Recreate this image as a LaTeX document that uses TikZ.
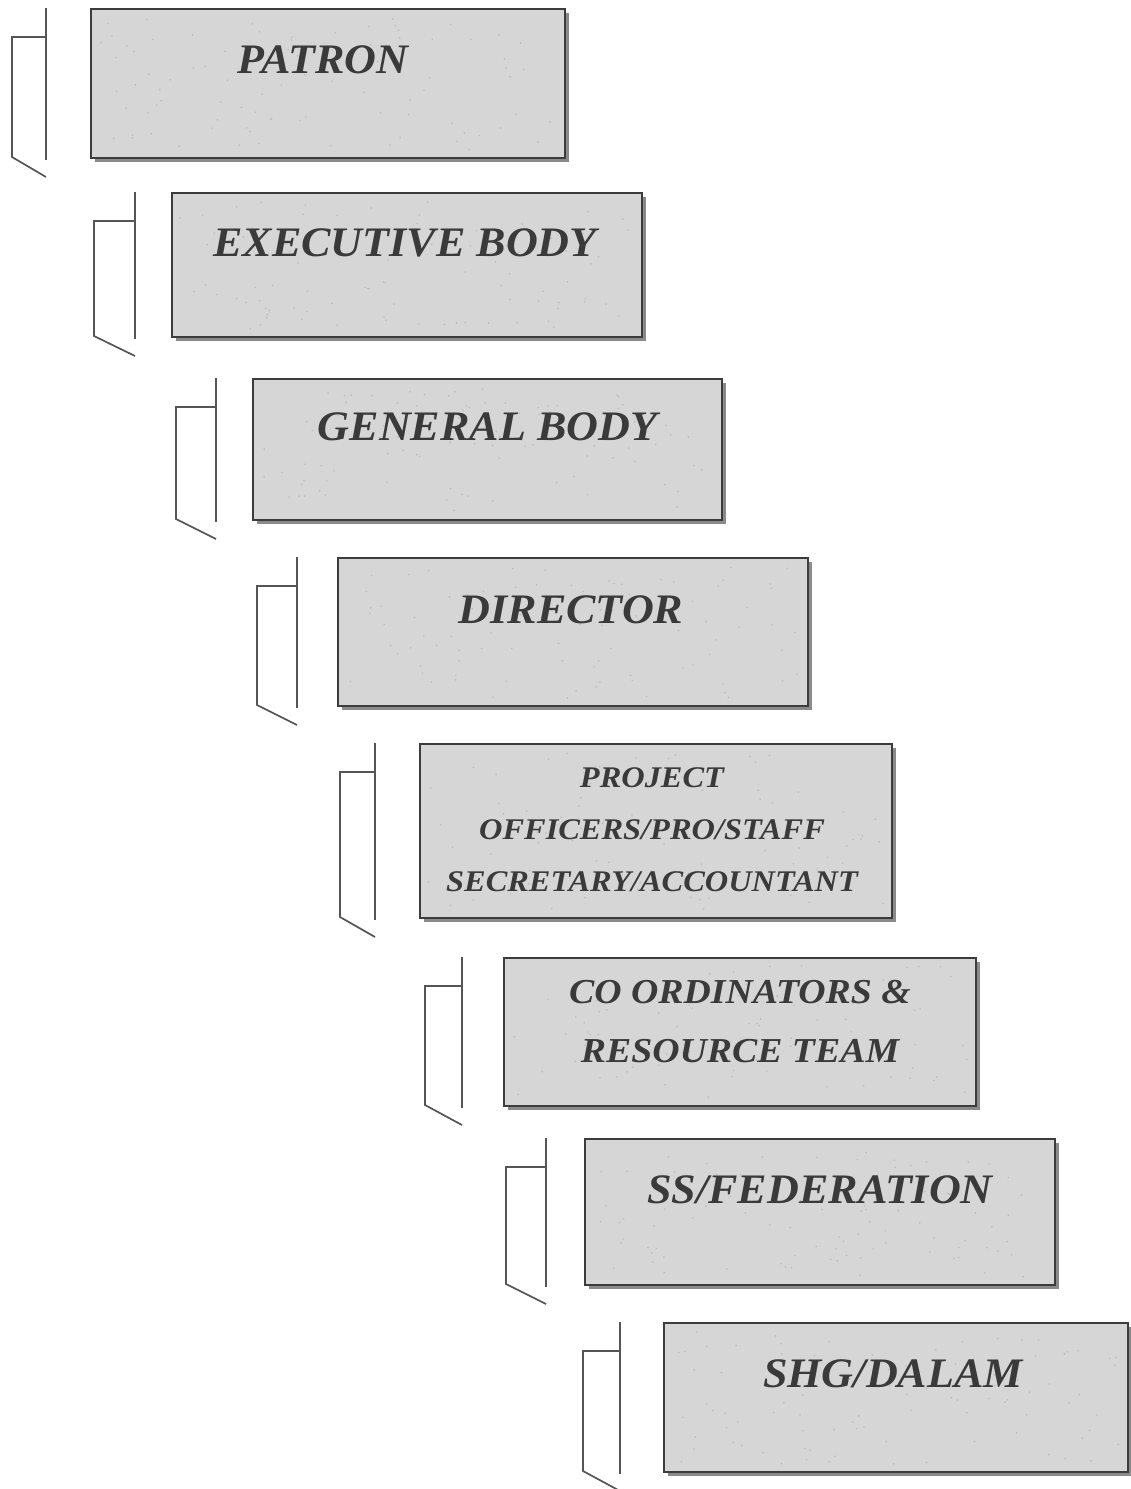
\documentclass[tikz,border=0pt]{standalone}
\usepackage{fontspec}
\setmainfont{Liberation Serif}
\newfontfamily\labfont[FakeStretch=1.08]{Liberation Serif}
\newfontfamily\bigfont[FakeStretch=1.05]{Liberation Serif}
\usetikzlibrary{calc}
\definecolor{boxfill}{HTML}{D6D6D6}
\definecolor{boxline}{HTML}{3C3C3C}
\definecolor{shade}{HTML}{8A8A8A}
\definecolor{brk}{HTML}{555555}
\definecolor{txt}{HTML}{3A3A3A}
\begin{document}
\begin{tikzpicture}[x=1pt,y=-1pt,
  levelbox/.style={draw=boxline,line width=2pt,fill=boxfill,anchor=north west,inner sep=0pt,outer sep=0pt},
  shadowbox/.style={fill=shade,draw=none},
  bracketline/.style={draw=brk,line width=1.7pt},
  label/.style={text=txt,font=\bigfont\bfseries\itshape\fontsize{42}{46}\selectfont,align=center,inner sep=0pt},
  smalllabel/.style={label,font=\labfont\bfseries\itshape\fontsize{30}{52}\selectfont},
  midlabel/.style={label,font=\labfont\bfseries\itshape\fontsize{35}{59}\selectfont}]
\useasboundingbox (0,0) rectangle (1131,1489);
\pgfmathsetseed{7}
\foreach \n/\l/\t/\w/\h/\ia/\oa in {1/91/9/474/149/-45/-79, 2/172/193/470/144/-37/-78,
                            3/253/379/469/141/-37/-77, 4/338/558/470/148/-41/-81,
                            5/420/744/472/174/-45/-80, 6/504/958/472/148/-42/-79,
                            7/585/1139/470/146/-39/-79, 8/664/1323/464/149/-44/-81}{
  % shadow
  \fill[shadowbox] (\l+4,\t+4) rectangle (\l+\w+3.5,\t+\h+3.5);
  % box
  \node[levelbox,minimum width=\w pt,minimum height=\h pt] (b\n) at (\l,\t) {};
  % speckle texture
  \foreach \k in {1,...,90}{
    \pgfmathsetmacro{\px}{\l+8+rnd*(\w-16)}
    \pgfmathsetmacro{\py}{\t+8+rnd*(\h-16)}
    \fill[black!45,opacity=0.35] (\px,\py) circle (0.9pt);
  }
  % bracket
  \draw[bracketline] ($(b\n.north west)+(\ia,-1)$) -- ($(b\n.south west)+(\ia,2)$);
  \draw[bracketline] ($(b\n.north west)+(\ia,28)$) -- ($(b\n.north west)+(\oa,28)$)
        -- ($(b\n.south west)+(\oa,-1)$) -- ($(b\n.south west)+(\ia,19)$);
}
\node[label] (t1) at ($(b1.north)+(-5,51)$) {PATRON};
\node[label] (t2) at ($(b2.north)+(-2,50)$) {EXECUTIVE BODY};
\node[label] (t3) at ($(b3.north)+(0,48)$) {GENERAL BODY};
\node[label] (t4) at ($(b4.north)+(-2,52)$) {DIRECTOR};
\node[smalllabel] (t5) at ($(b5.north)+(-4,86)$) {PROJECT\\OFFICERS/PRO/STAFF\\SECRETARY/ACCOUNTANT};
\node[midlabel] (t6) at ($(b6.north)+(0,64)$) {CO ORDINATORS \&\\RESOURCE TEAM};
\node[label] (t7) at ($(b7.north)+(0,51)$) {SS/FEDERATION};
\node[label] (t8) at ($(b8.north)+(-3,51)$) {SHG/DALAM};
\end{tikzpicture}
\end{document}
